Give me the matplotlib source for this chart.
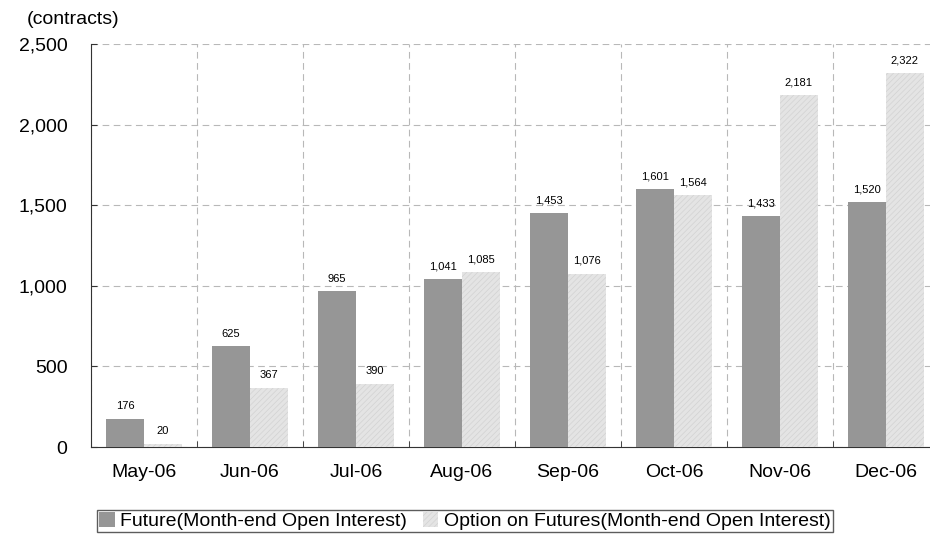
import numpy as np
import matplotlib
matplotlib.use("Agg")
import matplotlib.pyplot as plt
from matplotlib.ticker import FuncFormatter, MultipleLocator, FixedLocator

plt.rcParams['font.family'] = ['Liberation Sans', 'DejaVu Sans']
plt.rcParams['hatch.color'] = '#d2d2d2'
plt.rcParams['hatch.linewidth'] = 0.5

# data
months = ["May-06", "Jun-06", "Jul-06", "Aug-06", "Sep-06", "Oct-06", "Nov-06", "Dec-06"]
future = [176, 625, 965, 1041, 1453, 1601, 1433, 1520]
option = [20, 367, 390, 1085, 1076, 1564, 2181, 2322]
series_names = ["Future(Month-end Open Interest)",
                "Option on Futures(Month-end Open Interest)"]

fig = plt.figure(figsize=(9.3, 5.34), dpi=100)
ax = fig.add_axes([91 / 930, 1 - 447 / 534, 1 - 91 / 930, (447 - 44) / 534])

x = np.arange(len(months))
w = 0.355
b1 = ax.bar(x - w / 2, future, w, color='#969696', label=series_names[0], zorder=3)
b2 = ax.bar(x + w / 2, option, w, color='#e4e4e4', hatch='//////',
            label=series_names[1], zorder=3)

for bars, vals in ((b1, future), (b2, option)):
    for r, v in zip(bars, vals):
        ax.annotate(f"{v:,}", (r.get_x() + r.get_width() / 2, v),
                    xytext=(0, 5.5), textcoords='offset points',
                    ha='center', va='bottom', fontsize=8)

ax.set_ylim(0, 2500)
ax.set_xlim(-0.5, 7.5 - 9 / 106)
ax.yaxis.set_major_locator(MultipleLocator(500))
ax.yaxis.set_major_formatter(FuncFormatter(lambda v, p: f"{int(v):,}"))
ax.set_xticks(x)
ax.set_xticklabels(months)
ax.xaxis.set_minor_locator(FixedLocator(np.arange(-0.5, 8, 1)))
ax.tick_params(axis='x', which='major', length=0, pad=12.5, labelsize=14)
ax.tick_params(axis='x', which='minor', direction='in', length=4, color='#333333')
ax.tick_params(axis='y', direction='in', length=4, pad=17, labelsize=14, color='#333333')

ax.grid(axis='y', which='major', color='#b8b8b8', linestyle=(0, (6, 4)), linewidth=0.8, zorder=0)
ax.grid(axis='x', which='minor', color='#b8b8b8', linestyle=(0, (6, 4)), linewidth=0.8, zorder=0)
ax.grid(axis='x', which='major', visible=False)

for s in ('top', 'right'):
    ax.spines[s].set_visible(False)
ax.spines['left'].set_color('#333333')
ax.spines['bottom'].set_color('#333333')

fig.text(27 / 930, 1 - 20 / 534, "(contracts)", ha='left', va='center', fontsize=14)

leg = fig.legend(loc='lower center', bbox_to_anchor=(0.5, 0.0), ncol=2, fontsize=14,
                 frameon=True, fancybox=False, edgecolor='#333333', handlelength=0.8,
                 handleheight=0.8, handletextpad=0.3, columnspacing=0.8,
                 borderpad=0.1, borderaxespad=0.1)
leg.get_frame().set_linewidth(1.0)

fig.savefig("out.png", dpi=100)
